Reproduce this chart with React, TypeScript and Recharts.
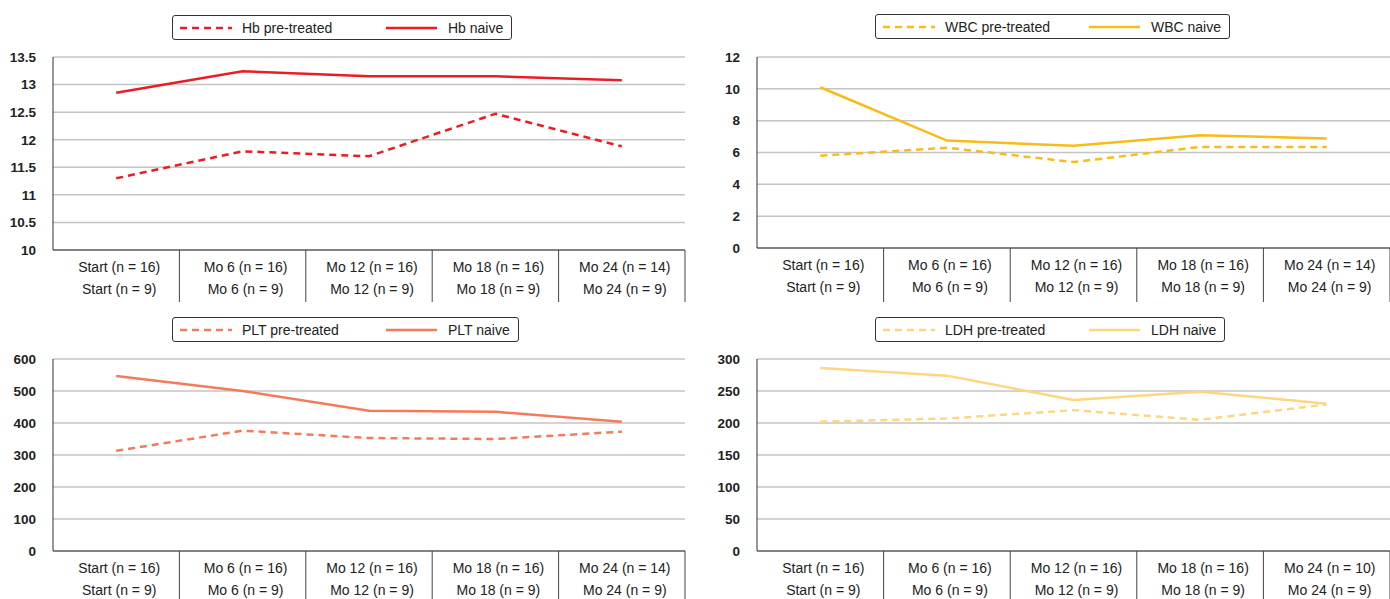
import { LineChart, Line, XAxis, YAxis, CartesianGrid } from "recharts";

const timepoints = ["Start", "Mo 6", "Mo 12", "Mo 18", "Mo 24"];
const nPreTreated = [16, 16, 16, 16, 14];
const nPreTreatedLdh = [16, 16, 16, 16, 10];
const nNaive = [9, 9, 9, 9, 9];

const hbPre = [11.3, 11.79, 11.7, 12.47, 11.88];
const hbNaive = [12.85, 13.24, 13.15, 13.15, 13.08];
const wbcPre = [5.8, 6.3, 5.4, 6.35, 6.35];
const wbcNaive = [10.1, 6.75, 6.42, 7.08, 6.88];
const pltPre = [313, 376, 353, 350, 373];
const pltNaive = [547, 500, 438, 435, 404];
const ldhPre = [202, 207, 220, 205, 229];
const ldhNaive = [286, 274, 236, 249, 230];

const hbTicks = [10, 10.5, 11, 11.5, 12, 12.5, 13, 13.5];
const wbcTicks = [0, 2, 4, 6, 8, 10, 12];
const pltTicks = [0, 100, 200, 300, 400, 500, 600];
const ldhTicks = [0, 50, 100, 150, 200, 250, 300];

const FONT = '"Liberation Sans", Arial, Helvetica, sans-serif';
const TEXT = "#222";
const DASH = "7 5";

type PanelProps = {
  name: string;
  color: string;
  pre: number[];
  naive: number[];
  ticks: number[];
  nPre: number[];
  left: number;
  top: number;
  width: number;
  height: number;
  marginLeft: number;
  marginRight: number;
  axisHeight: number;
  legendLeft: number;
  legendTop: number;
};

function Panel(p: PanelProps) {
  const data = timepoints.map((t, i) => ({ i, pre: p.pre[i], naive: p.naive[i] }));
  const yAxisWidth = 45;
  const plotWidth = p.width - p.marginLeft - p.marginRight - yAxisWidth;
  const band = plotWidth / timepoints.length;
  const bottomMargin = 2;

  const renderTick = (props: any) => {
    const { x, y, payload } = props;
    const i = payload.value as number;
    return (
      <g>
        <text x={x + 3} y={y + 17} textAnchor="middle" dominantBaseline="central" fill={TEXT} fontSize={14} fontFamily={FONT}>
          {`${timepoints[i]} (n = ${p.nPre[i]})`}
        </text>
        <text x={x + 3} y={y + 39} textAnchor="middle" dominantBaseline="central" fill={TEXT} fontSize={14} fontFamily={FONT}>
          {`${timepoints[i]} (n = ${nNaive[i]})`}
        </text>
        <line x1={x + band / 2} x2={x + band / 2} y1={y} y2={y + p.axisHeight + bottomMargin} stroke="#444" strokeWidth={1} />
      </g>
    );
  };

  return (
    <div style={{ position: "absolute", left: p.left, top: p.top, width: p.width, height: p.height }}>
      <LineChart
        width={p.width}
        height={p.height}
        data={data}
        margin={{ top: 57, right: p.marginRight, left: p.marginLeft, bottom: bottomMargin }}
      >
        <CartesianGrid horizontal vertical={false} stroke="#c4c4c4" strokeWidth={1.5} />
        <XAxis
          dataKey="i"
          type="number"
          domain={[-0.5, 4.5]}
          ticks={[0, 1, 2, 3, 4]}
          tick={renderTick}
          tickLine={false}
          tickSize={0}
          tickMargin={0}
          height={p.axisHeight}
          axisLine={{ stroke: "#333", strokeWidth: 1 }}
          interval={0}
        />
        <YAxis
          width={yAxisWidth}
          domain={[p.ticks[0], p.ticks[p.ticks.length - 1]]}
          ticks={p.ticks}
          interval={0}
          tickLine={false}
          tickSize={0}
          tickMargin={17}
          axisLine={{ stroke: "#333", strokeWidth: 1 }}
          tick={{ fill: TEXT, fontSize: 13.5, fontWeight: 700, fontFamily: FONT }}
        />
        <Line
          dataKey="pre"
          name={`${p.name} pre-treated`}
          type="linear"
          stroke={p.color}
          strokeWidth={2.5}
          strokeDasharray={DASH}
          dot={false}
          isAnimationActive={false}
        />
        <Line
          dataKey="naive"
          name={`${p.name} naive`}
          type="linear"
          stroke={p.color}
          strokeWidth={2.5}
          dot={false}
          isAnimationActive={false}
        />
      </LineChart>
      <div
        style={{
          position: "absolute",
          left: p.legendLeft,
          top: p.legendTop,
          height: 23,
          border: "1px solid #333",
          borderRadius: 3,
          display: "flex",
          alignItems: "center",
          padding: "0 8px 0 7px",
          fontFamily: FONT,
          fontSize: 14,
          color: TEXT,
          background: "#fff",
          whiteSpace: "nowrap",
        }}
      >
        <div style={{ width: 206, display: "flex", alignItems: "center" }}>
          <svg width={52} height={4} style={{ marginRight: 10 }}>
            <line x1={0} x2={52} y1={2} y2={2} stroke={p.color} strokeWidth={2.5} strokeDasharray={DASH} />
          </svg>
          <span>{`${p.name} pre-treated`}</span>
        </div>
        <div style={{ display: "flex", alignItems: "center" }}>
          <svg width={51} height={4} style={{ marginRight: 11 }}>
            <line x1={0} x2={51} y1={2} y2={2} stroke={p.color} strokeWidth={2.5} />
          </svg>
          <span>{`${p.name} naive`}</span>
        </div>
      </div>
    </div>
  );
}

export default function App() {
  return (
    <div style={{ position: "absolute", left: 0, top: 0, width: 1390, height: 599, background: "#fff", overflow: "hidden" }}>
      <Panel name="Hb" color="#ec1c24" pre={hbPre} naive={hbNaive} ticks={hbTicks} nPre={nPreTreated}
        left={0} top={0} width={695} height={302} marginLeft={8} marginRight={10} axisHeight={50}
        legendLeft={172} legendTop={15} />
      <Panel name="WBC" color="#fbbb17" pre={wbcPre} naive={wbcNaive} ticks={wbcTicks} nPre={nPreTreated}
        left={695} top={0} width={695} height={302} marginLeft={17} marginRight={0} axisHeight={52}
        legendLeft={180} legendTop={14} />
      <Panel name="PLT" color="#f47a5c" pre={pltPre} naive={pltNaive} ticks={pltTicks} nPre={nPreTreated}
        left={0} top={302} width={695} height={297} marginLeft={8} marginRight={10} axisHeight={46}
        legendLeft={172} legendTop={15} />
      <Panel name="LDH" color="#fdd680" pre={ldhPre} naive={ldhNaive} ticks={ldhTicks} nPre={nPreTreatedLdh}
        left={695} top={302} width={695} height={297} marginLeft={17} marginRight={0} axisHeight={46}
        legendLeft={180} legendTop={15} />
    </div>
  );
}
